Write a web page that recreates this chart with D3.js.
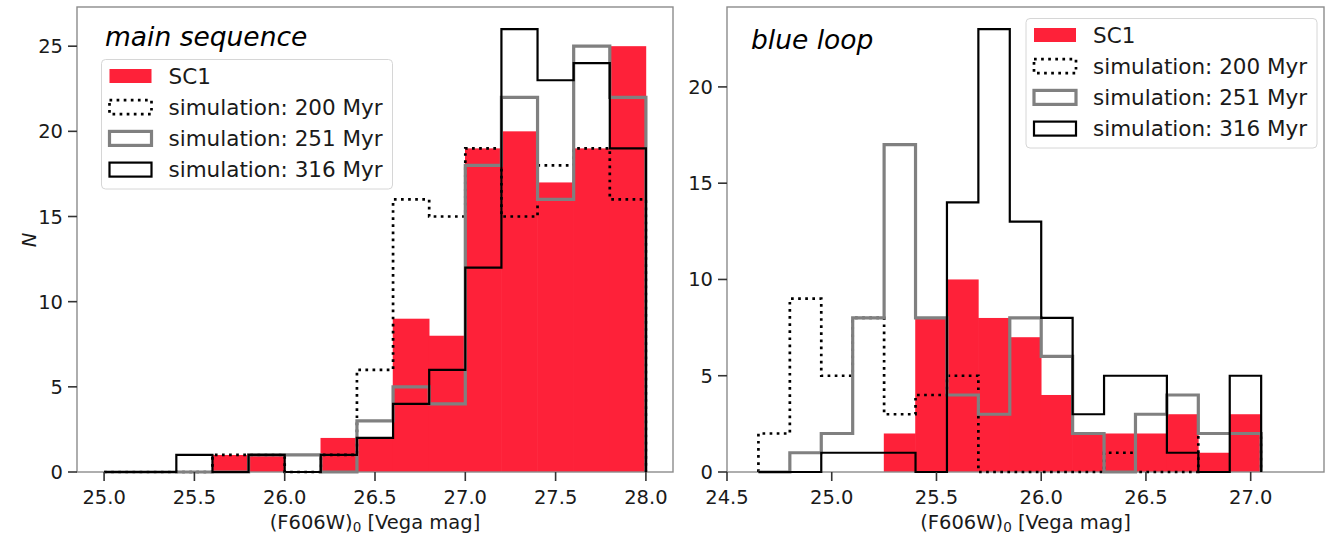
<!DOCTYPE html>
<html><head><meta charset="utf-8">
<script src="https://cdn.jsdelivr.net/npm/d3@7"></script>
<style>body{margin:0;background:#fff}</style>
</head><body>
<svg id="chart" width="1330" height="535" xmlns="http://www.w3.org/2000/svg"></svg>
<script>
// ---------- DATA ----------
// main sequence panel: bin edges (F606W)0 mag
const msEdges = [25.0, 25.2, 25.4, 25.6, 25.8, 26.0, 26.2, 26.4, 26.6, 26.8, 27.0, 27.2, 27.4, 27.6, 27.8, 28.0];
const msSC1   = [0, 0, 0, 1, 1, 0, 2, 2, 9, 8, 19, 20, 17, 19, 25];
const ms200   = [0, 0, 0, 1, 1, 0, 1, 6, 16, 15, 19, 15, 18, 19, 16];
const ms251   = [0, 0, 0, 0, 1, 1, 0, 3, 5, 4, 18, 22, 16, 25, 22];
const ms316   = [0, 0, 1, 0, 1, 0, 1, 2, 4, 6, 12, 26, 23, 24, 19];
const msXTicks = [25.0, 25.5, 26.0, 26.5, 27.0, 27.5, 28.0];
const msYTicks = [0, 5, 10, 15, 20, 25];

// blue loop panel
const blEdges = [24.65, 24.80, 24.95, 25.10, 25.25, 25.40, 25.55, 25.70, 25.85, 26.00, 26.15, 26.30, 26.45, 26.60, 26.75, 26.90, 27.05];
const blSC1   = [0, 0, 0, 0, 2, 8, 10, 8, 7, 4, 2, 2, 2, 3, 1, 3];
const bl200   = [2, 9, 5, 8, 3, 4, 5, 0, 0, 0, 0, 1, 0, 0, 2, 2];
const bl251   = [0, 1, 2, 8, 17, 8, 4, 3, 8, 6, 2, 0, 3, 4, 2, 2];
const bl316   = [0, 0, 1, 1, 1, 0, 14, 23, 13, 8, 3, 5, 5, 1, 0, 5];
const blXTicks = [24.5, 25.0, 25.5, 26.0, 26.5, 27.0];
const blYTicks = [0, 5, 10, 15, 20];

const legendLabels = ["SC1", "simulation: 200 Myr", "simulation: 251 Myr", "simulation: 316 Myr"];
const panelTitles = ["main sequence", "blue loop"];

// ---------- STYLE ----------
const FONT = "'DejaVu Sans', Verdana, sans-serif";
const RED = "#fe2139";
const GREY = "#808080";
const SPINE = "#8c8c8c";
const TXT = "#1a1a1a";
const TICKFS = 19.5, LEGFS = 21.5, LABFS = 19.5, TITLEFS = 26.5;
const styles = {
  s200: {stroke: "#000", width: 2.7, dash: "2.7 4.4"},
  s251: {stroke: GREY, width: 3.2, dash: null},
  s316: {stroke: "#000", width: 2.2, dash: null}
};

const svg = d3.select("#chart");

function drawPanel(cfg) {
  const x = d3.scaleLinear().domain(cfg.xDomain).range([cfg.x0, cfg.x1]);
  const y = d3.scaleLinear().domain(cfg.yDomain).range([472, 7]);
  const g = svg.append("g");

  // axes background
  g.append("rect").attr("x", cfg.x0).attr("y", 7).attr("width", cfg.x1 - cfg.x0).attr("height", 465).attr("fill", "#fff");

  // filled SC1 bars
  cfg.sc1.forEach((v, i) => {
    if (v <= 0) return;
    g.append("rect")
      .attr("x", x(cfg.edges[i]) - 0.3)
      .attr("width", x(cfg.edges[i + 1]) - x(cfg.edges[i]) + 0.6)
      .attr("y", y(v))
      .attr("height", y(0) - y(v))
      .attr("fill", RED);
  });

  // spines
  const sp = g.append("g").attr("stroke", SPINE).attr("stroke-width", 1.4).attr("fill", "none");
  sp.append("rect").attr("x", cfg.x0).attr("y", 7).attr("width", cfg.x1 - cfg.x0).attr("height", 465);

  // step outlines
  const line = d3.line().x(d => x(d[0])).y(d => y(d[1]));
  function stepPts(vals) {
    const pts = [[cfg.edges[0], 0]];
    vals.forEach((v, i) => { pts.push([cfg.edges[i], v]); pts.push([cfg.edges[i + 1], v]); });
    pts.push([cfg.edges[vals.length], 0]);
    return pts;
  }
  [["s200", cfg.v200], ["s251", cfg.v251], ["s316", cfg.v316]].forEach(([k, vals]) => {
    const st = styles[k];
    g.append("path").attr("d", line(stepPts(vals)))
      .attr("fill", "none").attr("stroke", st.stroke).attr("stroke-width", st.width)
      .attr("stroke-dasharray", st.dash).attr("stroke-linejoin", "miter");
  });

  // x axis ticks
  const xa = g.append("g");
  cfg.xTicks.forEach(t => {
    xa.append("line").attr("x1", x(t)).attr("x2", x(t)).attr("y1", 472).attr("y2", 481)
      .attr("stroke", "#333").attr("stroke-width", 1.6);
    xa.append("text").attr("x", x(t)).attr("y", 503.5).attr("text-anchor", "middle")
      .attr("font-family", FONT).attr("font-size", TICKFS).attr("fill", TXT).text(d3.format(".1f")(t));
  });
  // y axis ticks
  const ya = g.append("g");
  cfg.yTicks.forEach(t => {
    ya.append("line").attr("x1", cfg.x0 - 9).attr("x2", cfg.x0).attr("y1", y(t)).attr("y2", y(t))
      .attr("stroke", "#333").attr("stroke-width", 1.6);
    ya.append("text").attr("x", cfg.x0 - 14).attr("y", y(t)).attr("dy", "0.36em").attr("text-anchor", "end")
      .attr("font-family", FONT).attr("font-size", TICKFS).attr("fill", TXT).text(t);
  });

  // x label
  const xl = g.append("text").attr("x", (cfg.x0 + cfg.x1) / 2).attr("y", 528.5).attr("text-anchor", "middle")
    .attr("font-family", FONT).attr("font-size", LABFS).attr("fill", TXT);
  xl.append("tspan").text("(F606W)");
  xl.append("tspan").attr("font-size", 13.5).attr("dy", 3.5).text("0");
  xl.append("tspan").attr("dy", -3.5).text(" [Vega mag]");

  // title
  g.append("text").attr("x", cfg.titleX).attr("y", cfg.titleY).attr("font-family", FONT)
    .attr("font-style", "italic").attr("font-size", TITLEFS).attr("fill", "#000").text(cfg.title);

  // legend
  const L = cfg.legend;
  const lg = g.append("g");
  lg.append("rect").attr("x", L.x).attr("y", L.y).attr("width", 291).attr("height", 129.5).attr("rx", 4)
    .attr("fill", "#fff").attr("fill-opacity", 0.85).attr("stroke", "#d6d6d6").attr("stroke-width", 1);
  const hx = L.x + 8, hw = 42, hh = 14, rowH = 31.2;
  legendLabels.forEach((lab, i) => {
    const cy = L.y + 16.5 + i * rowH;
    if (i === 0) {
      lg.append("rect").attr("x", hx).attr("y", cy - hh / 2).attr("width", hw).attr("height", hh).attr("fill", RED);
    } else {
      const st = styles[["s200", "s251", "s316"][i - 1]];
      lg.append("rect").attr("x", hx).attr("y", cy - hh / 2).attr("width", hw).attr("height", hh)
        .attr("fill", "none").attr("stroke", st.stroke).attr("stroke-width", st.width).attr("stroke-dasharray", st.dash);
    }
    lg.append("text").attr("x", L.x + 67).attr("y", cy).attr("dy", "0.36em").attr("font-family", FONT)
      .attr("font-size", LEGFS).attr("fill", TXT).text(lab);
  });
  return g;
}

// right panel first
drawPanel({
  edges: blEdges, sc1: blSC1, v200: bl200, v251: bl251, v316: bl316,
  xDomain: [24.5, 27.35], yDomain: [0, 24.15], x0: 727, x1: 1324,
  xTicks: blXTicks, yTicks: blYTicks, title: panelTitles[1], titleX: 751, titleY: 49,
  legend: {x: 1026, y: 18.5}
});

// left panel
drawPanel({
  edges: msEdges, sc1: msSC1, v200: ms200, v251: ms251, v316: ms316,
  xDomain: [24.85, 28.15], yDomain: [0, 27.3], x0: 77, x1: 673,
  xTicks: msXTicks, yTicks: msYTicks, title: panelTitles[0], titleX: 105, titleY: 46,
  legend: {x: 101.5, y: 59.5}
});

// y label
svg.append("text").attr("transform", "translate(36,240) rotate(-90)").attr("text-anchor", "middle")
  .attr("font-family", FONT).attr("font-style", "italic").attr("font-size", LABFS).attr("fill", TXT).text("N");
</script>
</body></html>
